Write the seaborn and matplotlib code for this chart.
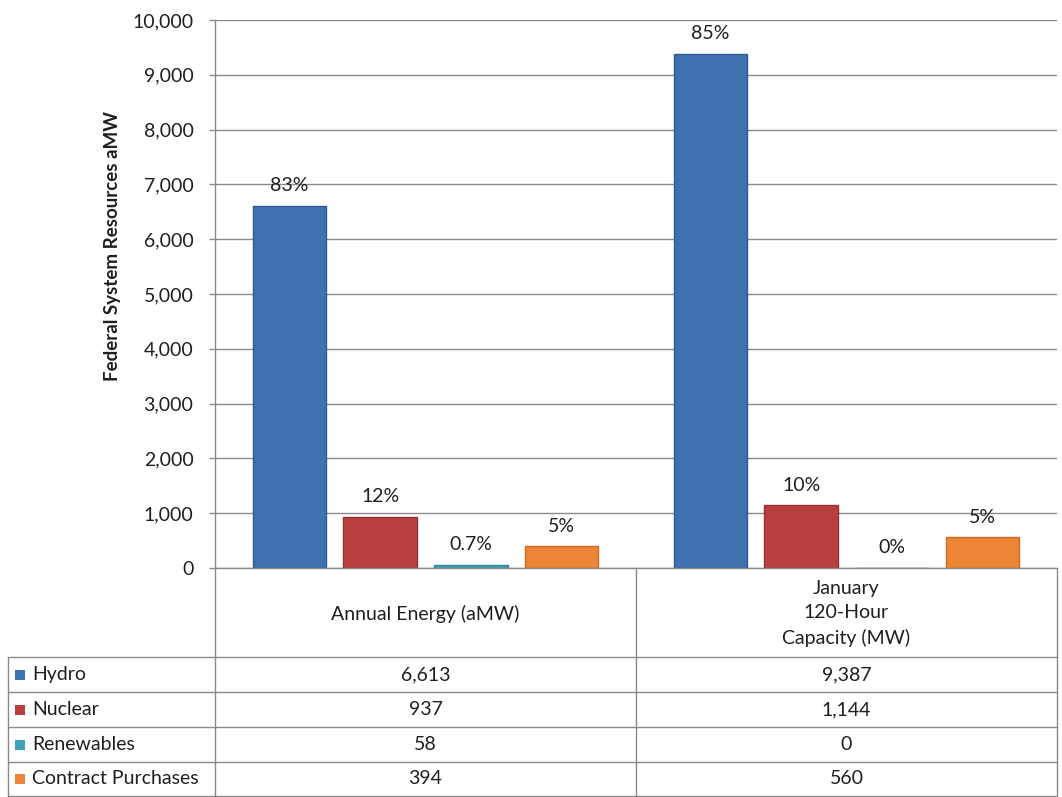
import matplotlib
matplotlib.use("Agg")
import matplotlib.pyplot as plt
import pandas as pd
import seaborn as sns
from matplotlib.patches import Rectangle

# Federal system resources by source
periods = ["Annual Energy (aMW)", "January\n120-Hour\nCapacity (MW)"]
sources = ["Hydro", "Nuclear", "Renewables", "Contract Purchases"]
annual_energy = [6613, 937, 58, 394]
january_capacity = [9387, 1144, 0, 560]
annual_share = ["83%", "12%", "0.7%", "5%"]
january_share = ["85%", "10%", "0%", "5%"]
y_ticks = [0, 1000, 2000, 3000, 4000, 5000, 6000, 7000, 8000, 9000, 10000]

colors = ["#3F70B0", "#B8403F", "#3FA2B8", "#EC8535"]
edge_colors = ["#2F5B93", "#963131", "#2E8394", "#C96C25"]

sns.set_theme(style="white")
plt.rcParams["font.family"] = ["Lato", "DejaVu Sans"]

TXT = "#1f1f1f"
FS = 14

df = pd.DataFrame({
    "period": [periods[0]] * 4 + [periods[1]] * 4,
    "source": sources * 2,
    "value": annual_energy + january_capacity,
})
shares = {periods[0]: annual_share, periods[1]: january_share}

W, H = 1062, 797
fig = plt.figure(figsize=(W / 100, H / 100), dpi=100)

# plot area in pixel coordinates
left, right, top, bottom = 215, 1057, 20, 568
ax = fig.add_axes([left / W, 1 - bottom / H, (right - left) / W, (bottom - top) / H])

sns.barplot(data=df, x="period", y="value", hue="source", hue_order=sources,
            palette=colors, width=0.862, gap=0.187, legend=False, ax=ax,
            errorbar=None, saturation=1)

for container, ec, src in zip(ax.containers, edge_colors, sources):
    for bar, period in zip(container, periods):
        bar.set_edgecolor(ec)
        bar.set_linewidth(1)
        label = shares[period][sources.index(src)]
        ax.annotate(label, (bar.get_x() + bar.get_width() / 2, bar.get_height()),
                    xytext=(0, 8.5), textcoords="offset points",
                    ha="center", va="bottom", fontsize=FS, color=TXT)

ax.set_xlim(-0.5, 1.5)
ax.set_ylim(0, 10000)
ax.set_yticks(y_ticks)
ax.set_yticklabels([f"{v:,}" for v in y_ticks], fontsize=FS, color=TXT)
ax.set_xticks([])
ax.set_xlabel("")
ax.set_ylabel("Federal System Resources aMW", fontsize=13.5, fontweight="bold",
              color=TXT)
ax.yaxis.set_label_coords(-0.112, 0.588)
ax.yaxis.grid(True, color="#8a8a8a", linewidth=1)
ax.set_axisbelow(True)
for side in ["top", "right", "bottom"]:
    ax.spines[side].set_visible(False)
ax.spines["left"].set_color("#8a8a8a")
ax.spines["left"].set_linewidth(1)
ax.tick_params(axis="y", length=4, width=1, color="#8a8a8a", pad=11.5, left=True)

# data table below the plot area
tab = fig.add_axes([0, 0, 1, 1], facecolor="none")
tab.set_xlim(0, W)
tab.set_ylim(H, 0)
tab.axis("off")

line_kw = dict(color="#8a8a8a", linewidth=1)
mid = (left + right) / 2
header_bottom = 657
row_edges = [657, 692, 727, 762, 796]
legend_left = 8

tab.plot([left, right], [bottom, bottom], **line_kw)
for x in (left, mid, right):
    tab.plot([x, x], [bottom, row_edges[-1]], **line_kw)
tab.plot([legend_left, legend_left], [header_bottom, row_edges[-1]], **line_kw)
for y in row_edges:
    tab.plot([legend_left, right], [y, y], **line_kw)

col_centers = [(left + mid) / 2, (mid + right) / 2]
for cx, period in zip(col_centers, periods):
    tab.text(cx, (bottom + header_bottom) / 2 + 1, period, ha="center", va="center",
             fontsize=FS, color=TXT, linespacing=1.5)

values = [annual_energy, january_capacity]
for i, (src, col) in enumerate(zip(sources, colors)):
    cy = (row_edges[i] + row_edges[i + 1]) / 2
    tab.add_patch(Rectangle((15, cy - 5), 10, 10, facecolor=col, edgecolor="none"))
    tab.text(32, cy, src, ha="left", va="center", fontsize=FS, color=TXT)
    for cx, vals in zip(col_centers, values):
        tab.text(cx, cy, f"{vals[i]:,}", ha="center", va="center",
                 fontsize=FS, color=TXT)

fig.savefig("out.png", dpi=100)
